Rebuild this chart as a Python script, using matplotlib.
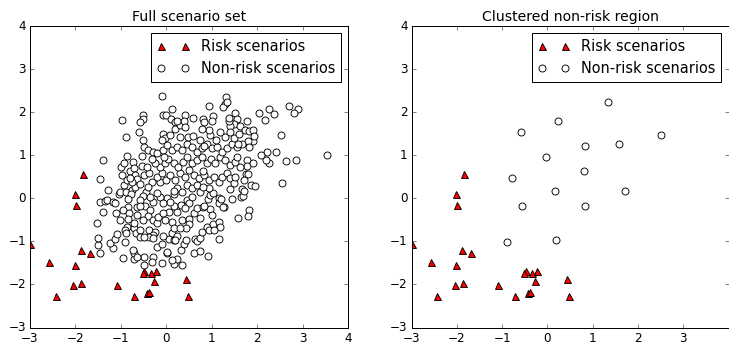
import matplotlib
matplotlib.use("Agg")
import matplotlib.pyplot as plt

# risk scenarios (same in both panels)
risk_x = [-2.99, -2.58, -2.43, -2.01, -1.99, -1.83, -1.88, -1.69, -2.01, -2.05, -1.87,
          -1.08, -0.71, -0.48, -0.52, -0.34, -0.23, -0.28, -0.43, -0.38, 0.43, 0.48]
risk_y = [-1.07, -1.47, -2.28, 0.11, -0.16, 0.56, -1.19, -1.28, -1.55, -2.01, -1.96,
          -2.01, -2.28, -1.68, -1.74, -1.74, -1.69, -1.92, -2.20, -2.18, -1.87, -2.28]

# full set of non-risk scenarios
full_x = [-0.10, 1.31, 1.29, 1.25, 0.93, 0.13, -0.98, -0.51, -0.52, -0.58, -0.07, 0.00,
          0.10, 0.20, 0.19, 0.30, 0.41, 0.40, 0.59, 0.80, 0.83, 1.02, 1.00, 1.51, 1.56,
          1.48, 1.40, 1.37, 1.39, 1.62, 1.77, 1.74, 1.81, 1.90, 2.03, 2.25, 2.38, 2.17,
          2.71, 2.91, 2.82, 3.53, 2.63, 2.85, 2.54, 2.41, 2.21, 2.26, 2.19, 2.08, 1.91,
          1.92, 1.80, 1.81, 1.77, 1.77, 1.91, 1.75, 1.80, 1.86, 1.96, 1.72, 1.67, 1.64,
          1.69, 1.83, 1.80, 1.58, 1.41, 1.44, 1.28, 1.15, 1.16, 0.91, 0.62, 0.75, 0.34,
          0.16, 0.23, 0.02, 0.12, -0.10, -0.48, -0.48, -0.29, -0.32, -0.70, -0.72, -0.65,
          -0.74, -0.95, -1.17, -1.24, -1.13, -1.08, -1.50, -1.47, -1.50, -1.52, -1.39,
          -1.46, -1.35, -1.30, -1.17, -1.47, -1.39, -1.28, -0.89, -1.03, -1.02, -0.93,
          -1.00, -0.92, -0.87, -0.80, -0.74, -0.71, -0.69, -0.89, -0.76, -0.69, -0.78,
          -0.84, -0.85, -0.95, -0.81, -0.84, -0.87, -0.91, -0.89, -0.72, -0.70, -0.67,
          -0.58, -0.58, -0.54, -0.51, -0.49, -0.53, -0.49, -0.38, -0.41, -0.29, -0.64,
          -0.58, -0.45, -0.52, -0.47, -0.36, -0.40, -0.51, -0.29, -0.21, -0.18, -0.37,
          -0.25, -0.29, -0.37, -0.48, -0.29, -0.21, 0.01, -0.10, 0.07, -0.07, 0.12, 0.16,
          0.23, 0.32, 0.40, 0.43, 0.34, 0.51, 0.50, 0.43, 0.63, 0.67, 0.74, 0.79, 0.89,
          0.93, 0.74, 0.60, 0.67, 0.81, 0.96, 1.00, 1.03, 1.15, 1.18, 1.05, 1.16, 1.25,
          1.21, 0.91, 0.96, 1.03, 0.93, 0.32, 0.45, 0.56, 0.51, 0.41, 0.23, 0.16, 0.07,
          -0.07, -0.03, 0.12, 0.16, 0.30, 0.01, 0.09, -0.14, -0.21, -0.29, -0.07, 0.16,
          0.23, 0.34, 0.45, 0.56, 0.67, 0.74, 0.81, -0.14, -0.21, -0.10, -0.01, 0.08,
          0.19, 0.30, 0.41, 0.51, 0.60, 0.71, 0.82, 0.93, 1.04, 1.15, 1.22, 1.33, 1.40,
          1.48, 1.51, -0.14, -0.03, 0.04, 0.16, 0.26, 0.37, 0.45, 0.56, 0.67, 0.78, 0.89,
          0.98, 1.07, 1.18, 1.29, 1.40, 1.51, 1.62, 1.55, -0.21, -0.07, 0.01, 0.12, 0.23,
          0.34, 0.45, 0.56, 0.67, 0.78, 0.89, 1.00, 1.11, 1.22, 1.33, 1.44, 1.55, 1.66,
          -0.07, -0.03, -0.10, 0.08, 0.30, 0.48, 0.59, 0.74, 0.96, 1.09, 1.18, 1.29, 1.40,
          1.48, 1.59, 0.93, 0.78, 0.41, -0.58, -0.36, -0.65, -0.64, -1.13, -1.10, -1.02,
          -0.98, -0.87, -0.76, -0.32, -0.40, -0.25, -0.32, -0.43,
          1.34, 0.23, -0.59, 0.83, 1.58, 2.52, -0.04, 0.80, -0.79, 0.16, 1.71, -0.57,
          0.83, -0.90, 0.19]
full_y = [2.38, 2.36, 2.18, 2.11, 2.14, 2.08, 1.81, 1.93, 1.84, 1.76, 1.94, 1.93,
          1.85, 1.77, 1.62, 1.70, 1.93, 1.79, 1.87, 1.83, 1.78, 1.91, 1.79, 1.97, 1.83,
          1.72, 1.67, 1.79, 1.87, 1.68, 1.79, 1.58, 1.56, 1.58, 1.99, 2.07, 1.95, 1.81,
          2.15, 2.08, 1.97, 1.00, 0.86, 0.90, 0.35, 1.07, 1.08, 0.81, 0.90, 1.00, 1.33,
          1.45, 1.33, 1.19, 0.89, 0.75, 0.83, 0.57, 0.56, 0.30, 0.29, 0.42, 0.22, 0.03,
          0.05, -0.27, -0.42, -0.46, 0.21, -0.02, -0.20, 0.00, -0.94, -1.33, -1.26, -1.22,
          -1.55, -1.53, -1.42, -1.28, -1.43, -1.51, -1.56, -1.36, -1.36, -1.47, -1.42,
          -1.28, -1.37, -1.19, -1.39, -1.16, -1.03, -0.95, -0.84, -1.09, -1.26, -0.93,
          -0.57, -0.33, -0.09, -0.06, -0.04, -0.09, 0.45, 0.88, 0.19, 1.43, 0.10, 0.15,
          0.32, 0.73, 0.81, 0.99, 0.64, 0.85, 0.71, 0.54, 0.15, 0.19, 0.27, 0.09, -0.02,
          -0.21, -0.27, -0.35, -0.47, -0.66, -0.74, -0.81, -0.68, -0.57, -0.81, -0.74,
          -0.89, 0.99, 1.35, 1.19, 0.75, 0.54, 0.58, 1.12, 1.08, 0.45, 0.34, 0.15, 0.06,
          -0.17, -0.27, -0.42, -0.50, -0.50, -0.57, -0.43, -0.74, -0.78, -0.85, -0.91,
          -0.89, -0.93, -1.12, -1.24, -1.05, -0.95, -0.87, -0.80, -0.97, -0.87, -1.20,
          -1.05, -0.97, -0.51, -0.49, -0.60, -0.70, -0.95, -1.00, -0.93, -0.78, -0.66,
          -0.74, -0.46, -0.35, -0.23, -0.20, -0.26, -0.39, -0.60, -0.55, -0.66, -0.73,
          -0.12, -0.20, -0.01, -0.02, 0.07, 0.13, 0.23, -0.16, -0.04, 0.04, -0.10, -0.23,
          -0.31, -0.18, -0.31, -0.35, -0.51, -0.55, -0.70, -0.68, 0.00, -0.08, 0.04, 0.13,
          -0.08, -0.12, 0.11, 0.23, 0.15, 0.31, 0.23, 0.31, 0.15, 0.27, 0.38, 0.50, 0.58,
          0.43, 0.54, 0.43, 0.58, 0.50, 0.65, 0.54, 0.46, 0.54, 0.43, 0.50, 0.38, 0.50,
          0.58, 0.46, 0.36, 0.50, 0.73, 0.81, 0.92, 0.81, 0.73, 0.85, 0.96, 0.81, 0.89,
          0.96, 0.81, 0.92, 0.81, 0.96, 0.89, 0.77, 0.85, 0.73, 0.96, 1.04, 1.12, 1.23,
          1.12, 1.19, 1.12, 1.27, 1.19, 1.08, 1.16, 1.27, 1.16, 1.19, 1.08, 1.16, 1.27,
          1.19, 1.27, 1.50, 1.39, 1.35, 1.47, 1.43, 1.43, 1.45, 1.35, 1.47, 1.35, 1.54,
          1.43, 1.54, 1.39, 1.50, 1.58, 1.62, 1.66, -0.04, 0.04, -0.20, -0.39, -0.12,
          -0.35, -0.51, 0.54, 0.42, 0.38, 0.38, 0.27, 0.81, 0.92, 0.73,
          2.24, 1.80, 1.55, 1.22, 1.25, 1.47, 0.95, 0.64, 0.48, 0.18, 0.18, -0.18,
          -0.19, -1.01, -0.97]

# clustered non-risk region (subset)
clus_x = [1.34, 0.23, -0.59, 0.83, 1.58, 2.52, -0.04, 0.80, -0.79, 0.16, 1.71, -0.57,
          0.83, -0.90, 0.19]
clus_y = [2.24, 1.80, 1.55, 1.22, 1.25, 1.47, 0.95, 0.64, 0.48, 0.18, 0.18, -0.18,
          -0.19, -1.01, -0.97]

titles = ["Full scenario set", "Clustered non-risk region"]

plt.style.use("classic")
fig = plt.figure(figsize=(729 / 72, 344 / 72), dpi=72, facecolor="white")
ax1 = fig.add_axes([30 / 729, 16.5 / 344, 318 / 729, 301.5 / 344])
ax2 = fig.add_axes([411.5 / 729, 16.5 / 344, 317 / 729, 301.5 / 344])

for ax, nx, ny, title in [(ax1, full_x, full_y, titles[0]), (ax2, clus_x, clus_y, titles[1])]:
    ax.plot(risk_x, risk_y, "^", color="red", markeredgecolor="black", markersize=7,
            markeredgewidth=0.9, label="Risk scenarios")
    ax.plot(nx, ny, "o", color="white", markeredgecolor="black", markersize=7,
            markeredgewidth=0.9, label="Non-risk scenarios")
    ax.set_xlim(-3, 4)
    ax.set_ylim(-3, 4)
    ax.set_title(title, fontsize=14)
    ax.tick_params(labelsize=12)
    ax.legend(loc="upper right", numpoints=2, fontsize=14.5, handlelength=2.2)

# right panel: last tick label falls off the figure edge in the original
ax2.set_xticks([-3, -2, -1, 0, 1, 2, 3])

fig.savefig("out.png", dpi=72, facecolor="white")
